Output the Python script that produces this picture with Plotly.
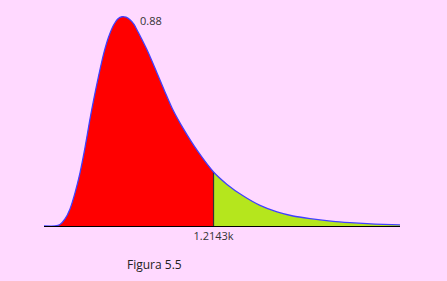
import plotly.graph_objects as go

# Curve (x in data units, density values)
x_vals = [0.0, 0.0788, 0.1146, 0.1504, 0.1863, 0.2221, 0.2579, 0.2937, 0.3260, 0.3546,
          0.3904, 0.4263, 0.4621, 0.4979, 0.5301, 0.5588, 0.5874, 0.6161, 0.6448, 0.6734,
          0.7379, 0.8095, 0.8668, 0.9242, 0.9958, 1.0961, 1.2143,
          1.3110, 1.4256, 1.5474, 1.6692, 1.7838, 1.9056, 2.0704, 2.1922, 2.3139, 2.4285, 2.5503]
y_vals = [0.0, 0.0, 0.0063, 0.0295, 0.0718, 0.1393, 0.2237, 0.3292, 0.4390, 0.5276,
          0.6289, 0.7218, 0.7935, 0.8442, 0.8717, 0.8800, 0.8780, 0.8674, 0.8484, 0.8167,
          0.7408, 0.6437, 0.5639, 0.4875, 0.4115, 0.3187, 0.2270,
          0.1750, 0.1270, 0.0865, 0.0590, 0.0420, 0.0310, 0.0194, 0.0139, 0.0097, 0.0068, 0.0046]
split_x = 1.2143
split_label = "1.2143k"
peak_label = "0.88"
caption = "Figura 5.5"

split_i = x_vals.index(split_x)
peak_i = y_vals.index(max(y_vals))
spline = dict(shape="spline", smoothing=0.7)

fig = go.Figure()
fig.add_trace(go.Scatter(x=x_vals[:split_i + 1], y=y_vals[:split_i + 1], mode="lines",
                         line=dict(width=0, **spline),
                         fill="tozeroy", fillcolor="#FF0000", hoverinfo="skip"))
fig.add_trace(go.Scatter(x=x_vals[split_i:], y=y_vals[split_i:], mode="lines",
                         line=dict(width=0, **spline),
                         fill="tozeroy", fillcolor="#B5E61D", hoverinfo="skip"))
fig.add_trace(go.Scatter(x=[split_x, split_x], y=[0, y_vals[split_i]], mode="lines",
                         line=dict(color="#333333", width=1.2), hoverinfo="skip"))
fig.add_trace(go.Scatter(x=x_vals, y=y_vals, mode="lines",
                         line=dict(color="#4040FF", width=1.3, **spline),
                         hoverinfo="skip"))

fig.add_annotation(x=x_vals[peak_i], y=y_vals[peak_i], text=peak_label, showarrow=False,
                   xanchor="left", yanchor="middle", xshift=16, yshift=-4,
                   font=dict(family="Open Sans", size=11, color="#333333"))
fig.add_annotation(x=0.309, y=-0.18, xref="paper", yref="paper", text=caption,
                   showarrow=False, xanchor="center", yanchor="middle",
                   font=dict(family="Open Sans", size=12, color="#222222"))

fig.update_layout(
    width=447, height=281,
    margin=dict(l=44, r=47, t=12, b=55),
    paper_bgcolor="#FFD9FF", plot_bgcolor="#FFD9FF",
    showlegend=False,
    xaxis=dict(range=[0, 2.55], showgrid=False, zeroline=False, showline=True,
               linecolor="#000000", linewidth=1, tickvals=[split_x], ticktext=[split_label],
               ticks="", tickfont=dict(family="Open Sans", size=11, color="#333333")),
    yaxis=dict(range=[0, 0.9], showgrid=False, zeroline=False, showline=False,
               showticklabels=False, ticks=""),
)
fig.write_html("out.html")
